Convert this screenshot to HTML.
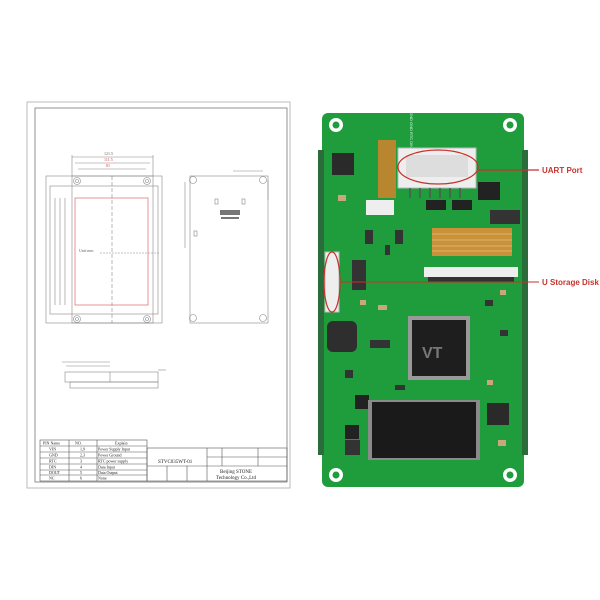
<!DOCTYPE html>
<html><head><style>
html,body{margin:0;padding:0;background:#fff;}
svg{display:block;}
</style></head><body>
<svg width="600" height="600" viewBox="0 0 600 600" xmlns="http://www.w3.org/2000/svg" font-family="Liberation Serif, serif">
<rect width="600" height="600" fill="#fff"/>
<rect x="27" y="102" width="263" height="386" fill="none" stroke="#bbb" stroke-width="1"/>
<rect x="35" y="108" width="252" height="374" fill="none" stroke="#777" stroke-width="0.8"/>
<g fill="none" stroke="#888" stroke-width="0.6">
<rect x="46" y="176" width="116" height="147"/>
<rect x="72" y="176" width="81" height="147"/>
<rect x="50" y="186" width="108" height="128"/>
<line x1="72" y1="157" x2="153" y2="157"/>
<line x1="75" y1="163" x2="150" y2="163"/>
<line x1="78" y1="169" x2="146" y2="169"/>
<line x1="72" y1="155" x2="72" y2="176"/><line x1="153" y1="155" x2="153" y2="176"/>
<line x1="55" y1="198" x2="55" y2="305"/><line x1="60" y1="198" x2="60" y2="305"/><line x1="65" y1="198" x2="65" y2="305"/>
<line x1="100" y1="253" x2="160" y2="253" stroke-dasharray="2,1"/>
<line x1="112" y1="176" x2="112" y2="323" stroke-dasharray="4,2"/>
<circle cx="77" cy="181" r="3.5"/><circle cx="77" cy="181" r="1.5"/>
<circle cx="147" cy="181" r="3.5"/><circle cx="147" cy="181" r="1.5"/>
<circle cx="77" cy="319" r="3.5"/><circle cx="77" cy="319" r="1.5"/>
<circle cx="147" cy="319" r="3.5"/><circle cx="147" cy="319" r="1.5"/>
</g>
<rect x="75" y="198" width="73" height="107" fill="none" stroke="#d66" stroke-width="0.7"/>
<g font-size="4" fill="#666"><text x="104" y="155">121.5</text><text x="104" y="161" fill="#c44">111.5</text><text x="106" y="167" fill="#c44">81</text><text x="79" y="252">Unit:mm</text></g>
<g fill="none" stroke="#888" stroke-width="0.6">
<rect x="190" y="176" width="78" height="147"/>
<circle cx="193" cy="180" r="3.5"/><circle cx="263" cy="180" r="3.5"/>
<circle cx="193" cy="318" r="3.5"/><circle cx="263" cy="318" r="3.5"/>
<line x1="185" y1="182" x2="185" y2="248"/>
<line x1="233" y1="171" x2="263" y2="171"/>
<line x1="268" y1="180" x2="268" y2="200"/>
<rect x="215" y="199" width="3" height="5"/><rect x="242" y="199" width="3" height="5"/>
<rect x="194" y="231" width="3" height="5"/>
</g>
<g fill="#777"><rect x="220" y="210" width="20" height="5"/><rect x="221" y="217" width="18" height="2"/></g>
<g fill="none" stroke="#888" stroke-width="0.6">
<rect x="65" y="372" width="93" height="10"/>
<rect x="70" y="382" width="88" height="6"/>
<line x1="62" y1="362" x2="110" y2="362"/><line x1="66" y1="366" x2="110" y2="366"/>
<line x1="110" y1="372" x2="110" y2="382"/>
<line x1="158" y1="370" x2="166" y2="370"/>
</g>
<g fill="none" stroke="#555" stroke-width="0.6">
<rect x="40" y="440" width="107" height="41"/>
<line x1="69" y1="440" x2="69" y2="481"/><line x1="97" y1="440" x2="97" y2="481"/>
<line x1="40" y1="446" x2="147" y2="446"/><line x1="40" y1="452" x2="147" y2="452"/>
<line x1="40" y1="458" x2="147" y2="458"/><line x1="40" y1="464" x2="147" y2="464"/>
<line x1="40" y1="470" x2="147" y2="470"/><line x1="40" y1="475" x2="147" y2="475"/>
<rect x="147" y="448" width="140" height="33"/>
<line x1="207" y1="448" x2="207" y2="481"/><line x1="147" y1="466" x2="207" y2="466"/>
<line x1="222" y1="448" x2="222" y2="466"/><line x1="258" y1="448" x2="258" y2="466"/>
<line x1="207" y1="457" x2="287" y2="457"/><line x1="207" y1="466" x2="287" y2="466"/>
<line x1="167" y1="466" x2="167" y2="481"/><line x1="187" y1="466" x2="187" y2="481"/>
</g>
<g font-size="4" fill="#222">
<text x="43" y="444.5">PIN Name</text><text x="75" y="444.5">NO.</text><text x="115" y="444.5">Explain</text>
<text x="49" y="450.5">VIN</text><text x="80" y="450.5">1,9</text><text x="98" y="450.5">Power Supply Input</text>
<text x="49" y="456.5">GND</text><text x="80" y="456.5">2,3</text><text x="98" y="456.5">Power Ground</text>
<text x="49" y="462.5">RTC</text><text x="80" y="462.5">3</text><text x="98" y="462.5">RTC power supply</text>
<text x="49" y="468.5">DIN</text><text x="80" y="468.5">4</text><text x="98" y="468.5">Data Input</text>
<text x="49" y="474">DOUT</text><text x="80" y="474">5</text><text x="98" y="474">Data Output</text>
<text x="49" y="479.5">NC</text><text x="80" y="479.5">6</text><text x="98" y="479.5">None</text>
<text x="158" y="463" font-size="5">STVC035WT-01</text>
<text x="220" y="473" font-size="5">Beijing STONE</text>
<text x="216" y="479" font-size="5">Technology Co.,Ltd</text>
</g>
<!-- PCB -->
<rect x="322" y="113" width="202" height="374" rx="6" fill="#1f9c3b"/>
<rect x="318" y="150" width="6" height="305" fill="#2a6c3a"/>
<rect x="522" y="150" width="6" height="305" fill="#2a6c3a"/>
<g fill="#fff"><circle cx="336" cy="125" r="7"/><circle cx="510" cy="125" r="7"/><circle cx="336" cy="475" r="7"/><circle cx="510" cy="475" r="7"/></g>
<g fill="#1f9c3b"><circle cx="336" cy="125" r="3.5"/><circle cx="510" cy="125" r="3.5"/><circle cx="336" cy="475" r="3.5"/><circle cx="510" cy="475" r="3.5"/></g>
<g font-family="Liberation Sans, sans-serif" font-size="4" fill="#dfe" transform="rotate(90 410 112)"><text x="410" y="112">GND GND RTC DIN DOUT NC VIN VIN</text></g>
<rect x="398" y="148" width="78" height="40" fill="#eee" stroke="#bbb"/>
<rect x="406" y="155" width="62" height="22" fill="#ddd"/>
<g stroke="#555" stroke-width="1.5"><line x1="410" y1="188" x2="410" y2="198"/><line x1="420" y1="188" x2="420" y2="198"/><line x1="430" y1="188" x2="430" y2="198"/><line x1="440" y1="188" x2="440" y2="198"/><line x1="450" y1="188" x2="450" y2="198"/><line x1="460" y1="188" x2="460" y2="198"/></g>
<rect x="378" y="140" width="18" height="58" fill="#b8862e"/>
<rect x="366" y="200" width="28" height="15" fill="#eee"/>
<rect x="426" y="200" width="20" height="10" fill="#222"/><rect x="452" y="200" width="20" height="10" fill="#222"/>
<rect x="432" y="228" width="80" height="28" fill="#c8913a"/>
<g stroke="#e9c27a" stroke-width="0.8"><line x1="432" y1="234" x2="512" y2="234"/><line x1="432" y1="240" x2="512" y2="240"/><line x1="432" y1="246" x2="512" y2="246"/><line x1="432" y1="251" x2="512" y2="251"/></g>
<rect x="424" y="267" width="94" height="10" fill="#eee"/>
<rect x="428" y="277" width="86" height="5" fill="#333"/>
<rect x="325" y="252" width="14" height="60" fill="#eee" stroke="#bbb"/>
<rect x="332" y="153" width="22" height="22" fill="#2a2a2a"/>
<rect x="327" y="321" width="30" height="31" rx="6" fill="#2e2e2e"/>
<rect x="487" y="403" width="22" height="22" fill="#2a2a2a"/>
<rect x="478" y="182" width="22" height="18" fill="#222"/>
<rect x="355" y="395" width="14" height="14" fill="#222"/>
<rect x="345" y="425" width="14" height="14" fill="#222"/>
<rect x="408" y="316" width="62" height="64" fill="#999"/>
<rect x="412" y="320" width="54" height="56" fill="#1e1e1e"/>
<text x="422" y="358" font-family="Liberation Sans, sans-serif" font-size="16" font-weight="bold" fill="#777">VT</text>
<rect x="368" y="400" width="112" height="60" fill="#8a8a8a"/>
<rect x="372" y="402" width="104" height="56" fill="#1a1a1a"/>
<g fill="#333">
<rect x="365" y="230" width="8" height="14"/><rect x="395" y="230" width="8" height="14"/>
<rect x="490" y="210" width="30" height="14"/><rect x="370" y="340" width="20" height="8"/>
<rect x="352" y="260" width="14" height="30"/><rect x="345" y="440" width="15" height="15"/>
<rect x="385" y="245" width="5" height="10"/><rect x="485" y="300" width="8" height="6"/><rect x="500" y="330" width="8" height="6"/>
<rect x="345" y="370" width="8" height="8"/><rect x="395" y="385" width="10" height="5"/>
</g>
<g fill="#c9a77a"><rect x="338" y="195" width="8" height="6"/><rect x="378" y="305" width="9" height="5"/><rect x="498" y="440" width="8" height="6"/><rect x="487" y="380" width="6" height="5"/><rect x="500" y="290" width="6" height="5"/><rect x="360" y="300" width="6" height="5"/></g>
<ellipse cx="438" cy="167" rx="40" ry="17" fill="none" stroke="#c8322c" stroke-width="1.2"/>
<ellipse cx="332" cy="282" rx="8" ry="30" fill="none" stroke="#c8322c" stroke-width="1.2"/>
<line x1="478" y1="170" x2="539" y2="170" stroke="#c8322c" stroke-width="1.2"/>
<line x1="340" y1="282" x2="539" y2="282" stroke="#c8322c" stroke-width="1"/>
<g font-family="Liberation Sans, sans-serif" font-size="8" font-weight="bold" fill="#c8322c">
<text x="542" y="173">UART Port</text>
<text x="542" y="285">U Storage Disk</text>
</g>
</svg>
</body></html>
